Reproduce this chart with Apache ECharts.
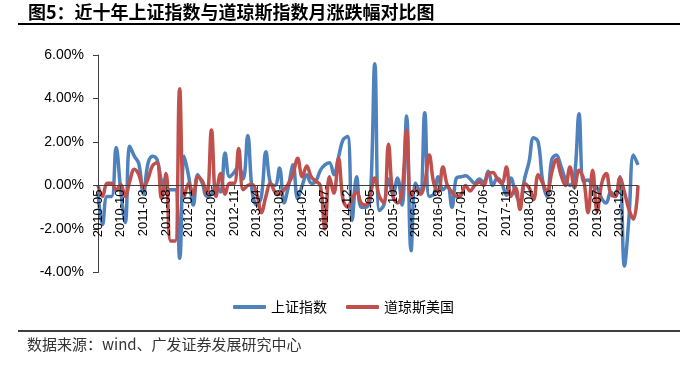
<!DOCTYPE html>
<html>
<head>
<meta charset="utf-8">
<script src="https://cdn.jsdelivr.net/npm/echarts@6/dist/echarts.min.js"></script>
<style>
html,body{margin:0;padding:0;background:#fff;}
#chart{width:680px;height:379px;}
</style>
</head>
<body>
<div id="chart"></div>
<script>
// ---- data ----
var startYear = 2010, startMonth = 5, monthCount = 120;
var categories = [];
for (var k = 0; k < monthCount; k++) {
  var m = startMonth - 1 + k;
  var yy = startYear + Math.floor(m / 12);
  var mm = (m % 12) + 1;
  categories.push(yy + '-' + (mm < 10 ? '0' + mm : mm));
}
var seriesNames = ['上证指数', '道琼斯美国'];
var shanghai = [
  -0.3, -1.8, -0.5, -0.5, 1.75, -0.2, -1.7, 1.8, 1.35, 1.0,
  -0.4, 1.0, 1.35, 1.2, 0.2, -0.2, -0.2, -0.2, -3.35, 1.35,
  0.4, -0.9, 0.5, 0.1, -0.5, -0.4, 0.0, -0.3, 1.5, 0.4,
  0.6, 0.9, 0.3, 2.3, -0.3, -0.9, -0.5, 1.55, 0.1, 0.0,
  0.8, -0.8, 0.0, 0.95, -0.6, 0.0, 0.5, 0.1, 0.2, 0.7,
  0.95, 1.05, 0.5, 1.3, 2.1, 2.25, -1.6, 0.4, -1.0, -1.0,
  -0.6, 5.6, -1.15, -0.9, 0.3, -0.4, 0.35, -0.9, 3.2, -3.0,
  0.1, -0.3, 3.35, -0.5, -0.4, 0.4, -0.2, 0.0, -1.0, 0.35,
  0.4, 0.45, 0.3, 0.1, 0.3, 0.15, 0.65, 0.0, 0.35, 0.1,
  -0.45, 0.35, -0.35, -0.8, 0.3, 1.1, 2.2, 2.0, 0.2, -0.5,
  1.2, 1.4, 0.9, 0.3, 0.0, 0.4, 3.3, 0.2, 0.25, 0.0,
  -0.1, -0.6, -0.8, -0.3, -0.5, 0.4, -3.7, -1.5, 1.4, 0.95
];
var dowjones = [
  0.0, -0.5, 0.1, 0.1, -0.2, 0.05, -0.5, 0.2, 0.75, 0.5,
  -0.1, 0.3, 0.9, 1.05, -0.6, 0.55, -2.55, -2.55, 4.45, -0.5,
  0.1, -0.4, 0.4, 0.2, -0.4, 2.55, -0.5, 0.55, -0.4, 0.1,
  0.1, 1.7, -0.2, 0.0, 0.05, -0.4, -1.25, -0.5, 0.1, -0.3,
  -0.4, -0.2, 0.1, 0.55, 1.25, 0.4, 0.9, 0.4, 0.2, 0.0,
  -2.0, 0.4, -0.35, 1.25, -0.65, -1.0, -0.6, -0.3, -0.8, -0.9,
  -0.4, 0.35, -0.5, -0.8, 1.9, -0.5, -0.8, -0.3, 2.55, -0.5,
  -0.2, -0.4, 0.1, 1.4, 0.1, -0.3, 0.85, 0.0, -0.3, -0.5,
  -0.45, 0.0, -0.25, 0.0, 0.15, 0.0, 0.55, 0.6, 0.3, 0.1,
  0.85, -0.5, -0.1, -1.1, 0.1, -0.1, -0.65, 0.5, 0.1, -0.3,
  0.6, 1.2, 0.5, 0.0, 0.85, -0.1, 0.7, 0.3, -1.25, 0.7,
  -1.2, 0.1, 0.55, -0.4, -0.5, 0.35, -0.3, -1.1, -1.55, 0.0
];
var yMin = -4, yMax = 6, yStep = 2;
var titleText = '图5：近十年上证指数与道琼斯指数月涨跌幅对比图';
var sourceText = '数据来源：wind、广发证券发展研究中心';
var colors = ['#4F81BD', '#C0504D'];

// ---- chart ----
var gridTop = 55, gridBottom = 106.5;
var plotH = 379 - gridTop - gridBottom;
var zeroOffset = -plotH * (0 - yMin) / (yMax - yMin);

var chart = echarts.init(document.getElementById('chart'), null, {renderer: 'canvas'});
var cjk = '"Noto Sans CJK SC", "Noto Sans", sans-serif';
var latin = '"Liberation Sans", Arial, sans-serif';
chart.setOption({
  animation: false,
  backgroundColor: '#fff',
  color: colors,
  grid: {left: 98, right: 42, top: gridTop, bottom: gridBottom, containLabel: false},
  graphic: [
    {type: 'text', left: 28, top: 3, style: {text: titleText, font: 'bold 18px ' + cjk, fill: '#000'}},
    {type: 'line', shape: {x1: 18, y1: 24, x2: 680, y2: 24}, style: {stroke: '#000', lineWidth: 2}},
    {type: 'line', shape: {x1: 18, y1: 331, x2: 680, y2: 331}, style: {stroke: '#000', lineWidth: 1.5}},
    {type: 'text', left: 27, top: 337, style: {text: sourceText, font: '15px ' + cjk, fill: '#333'}}
  ],
  legend: {
    data: seriesNames,
    left: 228, top: 295,
    icon: 'roundRect', itemWidth: 33, itemHeight: 4, itemGap: 19,
    textStyle: {fontSize: 14, fontFamily: cjk, color: '#000'}
  },
  xAxis: {
    type: 'category',
    data: categories,
    boundaryGap: false,
    offset: zeroOffset,
    z: 10,
    axisLine: {onZero: false, lineStyle: {color: '#404040', width: 1}},
    axisTick: {show: true, interval: 4, length: 4, lineStyle: {color: '#404040'}},
    axisLabel: {interval: 4, rotate: 90, margin: 4, fontSize: 13, fontFamily: latin, color: '#000'},
    splitLine: {show: false}
  },
  yAxis: {
    type: 'value',
    min: yMin, max: yMax, interval: yStep,
    axisLine: {show: true, lineStyle: {color: '#404040', width: 1}},
    axisTick: {show: true, length: 5, lineStyle: {color: '#404040'}},
    axisLabel: {margin: 14, fontSize: 14, fontFamily: latin, color: '#000',
      formatter: function (v) { return v.toFixed(2) + '%'; }},
    splitLine: {show: false}
  },
  series: [
    {name: seriesNames[0], type: 'line', data: shanghai, smooth: 0.4, showSymbol: false,
      lineStyle: {width: 3.5, color: colors[0]}, z: 2},
    {name: seriesNames[1], type: 'line', data: dowjones, smooth: 0.4, showSymbol: false,
      lineStyle: {width: 3.5, color: colors[1]}, z: 3}
  ]
});
</script>
</body>
</html>
